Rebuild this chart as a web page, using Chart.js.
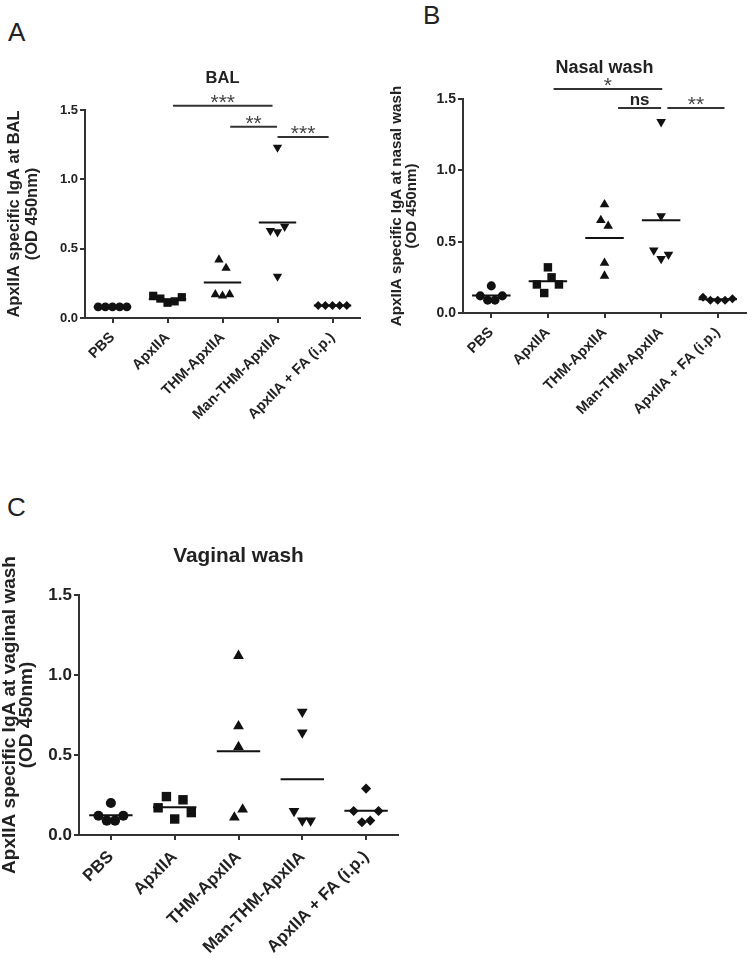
<!DOCTYPE html>
<html>
<head>
<meta charset="utf-8">
<script src="https://cdn.jsdelivr.net/npm/chart.js@4.4.0/dist/chart.umd.min.js"></script>
<style>
  body { margin: 0; background: #fff; width: 752px; height: 964px; position: relative; overflow: hidden; font-family: "Liberation Sans", Arial, sans-serif; }
  canvas { position: absolute; }
  .tag { position: absolute; font-size: 26px; line-height: 1; color: #222; }
</style>
</head>
<body>
<div class="tag" style="left:8px;top:19px">A</div>
<div class="tag" style="left:423px;top:2px">B</div>
<div class="tag" style="left:7px;top:494px">C</div>

<canvas id="chartA" width="376" height="440" style="left:0;top:0;width:376px;height:440px"></canvas>
<canvas id="chartB" width="376" height="440" style="left:376px;top:0;width:376px;height:440px"></canvas>
<canvas id="chartC" width="460" height="464" style="left:0;top:500px;width:460px;height:464px"></canvas>

<script>
const categories = ['PBS', 'ApxIIA', 'THM-ApxIIA', 'Man-THM-ApxIIA', 'ApxIIA + FA (i.p.)'];
const yTicks = [0, 0.5, 1.0, 1.5];

// BAL (values per mouse, left to right as plotted)
const balPBS = [0.08, 0.08, 0.08, 0.08, 0.08];
const balApx = [0.16, 0.14, 0.11, 0.12, 0.15];
const balTHM = [0.42, 0.36, 0.17, 0.16, 0.17];
const balMan = [1.23, 0.63, 0.62, 0.66, 0.30];
const balFA  = [0.09, 0.09, 0.09, 0.09, 0.09];

// Nasal wash
const nasalPBS = [0.19, 0.12, 0.09, 0.09, 0.12];
const nasalApx = [0.32, 0.20, 0.14, 0.25, 0.20];
const nasalTHM = [0.76, 0.65, 0.61, 0.26, 0.35];
const nasalMan = [1.34, 0.68, 0.44, 0.38, 0.41];
const nasalFA  = [0.11, 0.09, 0.09, 0.09, 0.10];

// Vaginal wash
const vagPBS = [0.20, 0.12, 0.09, 0.09, 0.12];
const vagApx = [0.17, 0.24, 0.10, 0.22, 0.14];
const vagTHM = [1.12, 0.68, 0.55, 0.11, 0.16];
const vagMan = [0.77, 0.64, 0.15, 0.09, 0.09];
const vagFA  = [0.29, 0.15, 0.08, 0.09, 0.15];

// significance bars: from, to (category axis), height, label
const balSig = [[1.10, 2.91, 1.53, '***'], [2.14, 2.99, 1.38, '**'], [3.00, 3.93, 1.305, '***']];
const nasalSig = [[1.10, 3.02, 1.57, '*'], [2.24, 3.00, 1.437, 'ns'], [3.11, 4.12, 1.437, '**']];

const FONT = '"Liberation Sans", Arial, sans-serif';
const styles = ['circle', 'rect', 'triangle', 'triangle', 'rectRot'];
const rots = [0, 0, 0, 180, 0];
const radii = [4.4, 5.8, 5.4, 5.4, 4.4];

// simple column scatter: points with close values sit side by side
function spread(vals) {
  const idx = vals.map((v, i) => i).sort((a, b) => vals[a] - vals[b]);
  const off = vals.map(() => 0);
  let group = [idx[0]];
  const flush = () => {
    group.sort((a, b) => a - b);
    group.forEach((k, j) => { off[k] = (j - (group.length - 1) / 2) * 0.13; });
  };
  for (let n = 1; n < idx.length; n++) {
    if (vals[idx[n]] - vals[idx[n - 1]] < 0.065) group.push(idx[n]);
    else { flush(); group = [idx[n]]; }
  }
  flush();
  return off;
}

function sigPlugin(bars) {
  return {
    id: 'sig',
    afterDraw(chart) {
      const { ctx, scales: { x, y } } = chart;
      ctx.save();
      bars.forEach(([a, b, h, label]) => {
        const py = y.getPixelForValue(h);
        const x1 = x.getPixelForValue(a), x2 = x.getPixelForValue(b);
        ctx.strokeStyle = '#333';
        ctx.lineWidth = 2;
        ctx.beginPath();
        ctx.moveTo(x1, py);
        ctx.lineTo(x2, py);
        ctx.stroke();
        ctx.textAlign = 'center';
        ctx.textBaseline = 'alphabetic';
        if (label === 'ns') {
          ctx.fillStyle = '#222';
          ctx.font = 'bold 17px ' + FONT;
          ctx.fillText(label, (x1 + x2) / 2, py - 3);
        } else {
          ctx.fillStyle = '#444';
          ctx.font = '21px ' + FONT;
          ctx.fillText(label, (x1 + x2) / 2, py + 3);
        }
      });
      ctx.restore();
    }
  };
}

function panel(id, groups, sig, o) {
  const datasets = [];
  groups.forEach((vals, i) => {
    const off = spread(vals);
    datasets.push({
      data: vals.map((v, k) => ({ x: i + off[k], y: v })),
      pointStyle: styles[i],
      rotation: rots[i],
      pointRadius: radii[i] * o.mark,
      backgroundColor: '#111',
      borderColor: '#111',
      borderWidth: 0
    });
    const mean = vals.reduce((s, v) => s + v, 0) / vals.length;
    datasets.push({
      type: 'line',
      data: [{ x: i - 0.34, y: mean }, { x: i + 0.34, y: mean }],
      borderColor: '#111',
      borderWidth: 2,
      pointRadius: 0
    });
  });

  new Chart(document.getElementById(id), {
    type: 'scatter',
    data: { datasets: datasets },
    options: {
      responsive: false,
      animation: false,
      layout: { padding: { left: 0, right: o.padRight, top: 0, bottom: 0 } },
      plugins: {
        legend: { display: false },
        tooltip: { enabled: false },
        title: {
          display: true,
          text: o.title,
          fullSize: false,
          color: '#222',
          font: { family: FONT, size: o.titleSize, weight: 'bold' },
          padding: { top: o.titleTop, bottom: o.titleBottom }
        }
      },
      scales: {
        x: {
          type: 'linear',
          min: -0.5,
          max: 4.5,
          afterBuildTicks: s => { s.ticks = categories.map((c, i) => ({ value: i })); },
          afterFit: s => { s.height = o.xHeight; },
          ticks: {
            autoSkip: false,
            minRotation: 45,
            maxRotation: 45,
            padding: o.xPad,
            color: '#222',
            font: { family: FONT, size: o.xFont, weight: 'bold' },
            callback: v => categories[v]
          },
          grid: { drawOnChartArea: false, color: '#333', lineWidth: 2, tickLength: 5 },
          border: { color: '#333', width: 2 }
        },
        y: {
          min: 0,
          max: 1.5,
          afterBuildTicks: s => { s.ticks = yTicks.map(v => ({ value: v })); },
          afterFit: s => { s.width = o.yWidth; },
          ticks: {
            color: '#222',
            padding: 2,
            font: { family: FONT, size: o.yFont, weight: 'bold' },
            callback: v => v.toFixed(1)
          },
          grid: { drawOnChartArea: false, color: '#333', lineWidth: 2, tickLength: 5 },
          border: { color: '#333', width: 2 },
          title: {
            display: true,
            text: o.yTitle,
            color: '#222',
            font: { family: FONT, size: o.yTitleSize, weight: 'bold', lineHeight: o.yTitleLH },
            padding: { top: o.yTitlePad, bottom: 0 }
          }
        }
      }
    },
    plugins: [sigPlugin(sig)]
  });
}

panel('chartA', [balPBS, balApx, balTHM, balMan, balFA], balSig, {
  title: 'BAL', titleSize: 16.5, titleTop: 69, titleBottom: 21.2,
  yTitle: ['ApxIIA specific IgA at BAL', '(OD 450nm)'], yTitleSize: 16.5, yTitleLH: 1.09, yTitlePad: 5.5,
  yWidth: 85, padRight: 16, xHeight: 122, xFont: 14.5, xPad: 6, yFont: 13, mark: 1
});

panel('chartB', [nasalPBS, nasalApx, nasalTHM, nasalMan, nasalFA], nasalSig, {
  title: 'Nasal wash', titleSize: 18, titleTop: 57.2, titleBottom: 20.2,
  yTitle: ['ApxIIA specific IgA at nasal wash', '(OD 450nm)'], yTitleSize: 15.2, yTitleLH: 0.99, yTitlePad: 13.5,
  yWidth: 87, padRight: 4, xHeight: 127, xFont: 14.5, xPad: 6, yFont: 14, mark: 1.03
});

panel('chartC', [vagPBS, vagApx, vagTHM, vagMan, vagFA], [], {
  title: 'Vaginal wash', titleSize: 20.8, titleTop: 43.8, titleBottom: 26.2,
  yTitle: ['ApxIIA specific IgA at vaginal wash', '(OD 450nm)'], yTitleSize: 19, yTitleLH: 0.9, yTitlePad: 1.5,
  yWidth: 79, padRight: 62, xHeight: 129, xFont: 17, xPad: 7, yFont: 17, mark: 1.15
});
</script>
</body>
</html>
